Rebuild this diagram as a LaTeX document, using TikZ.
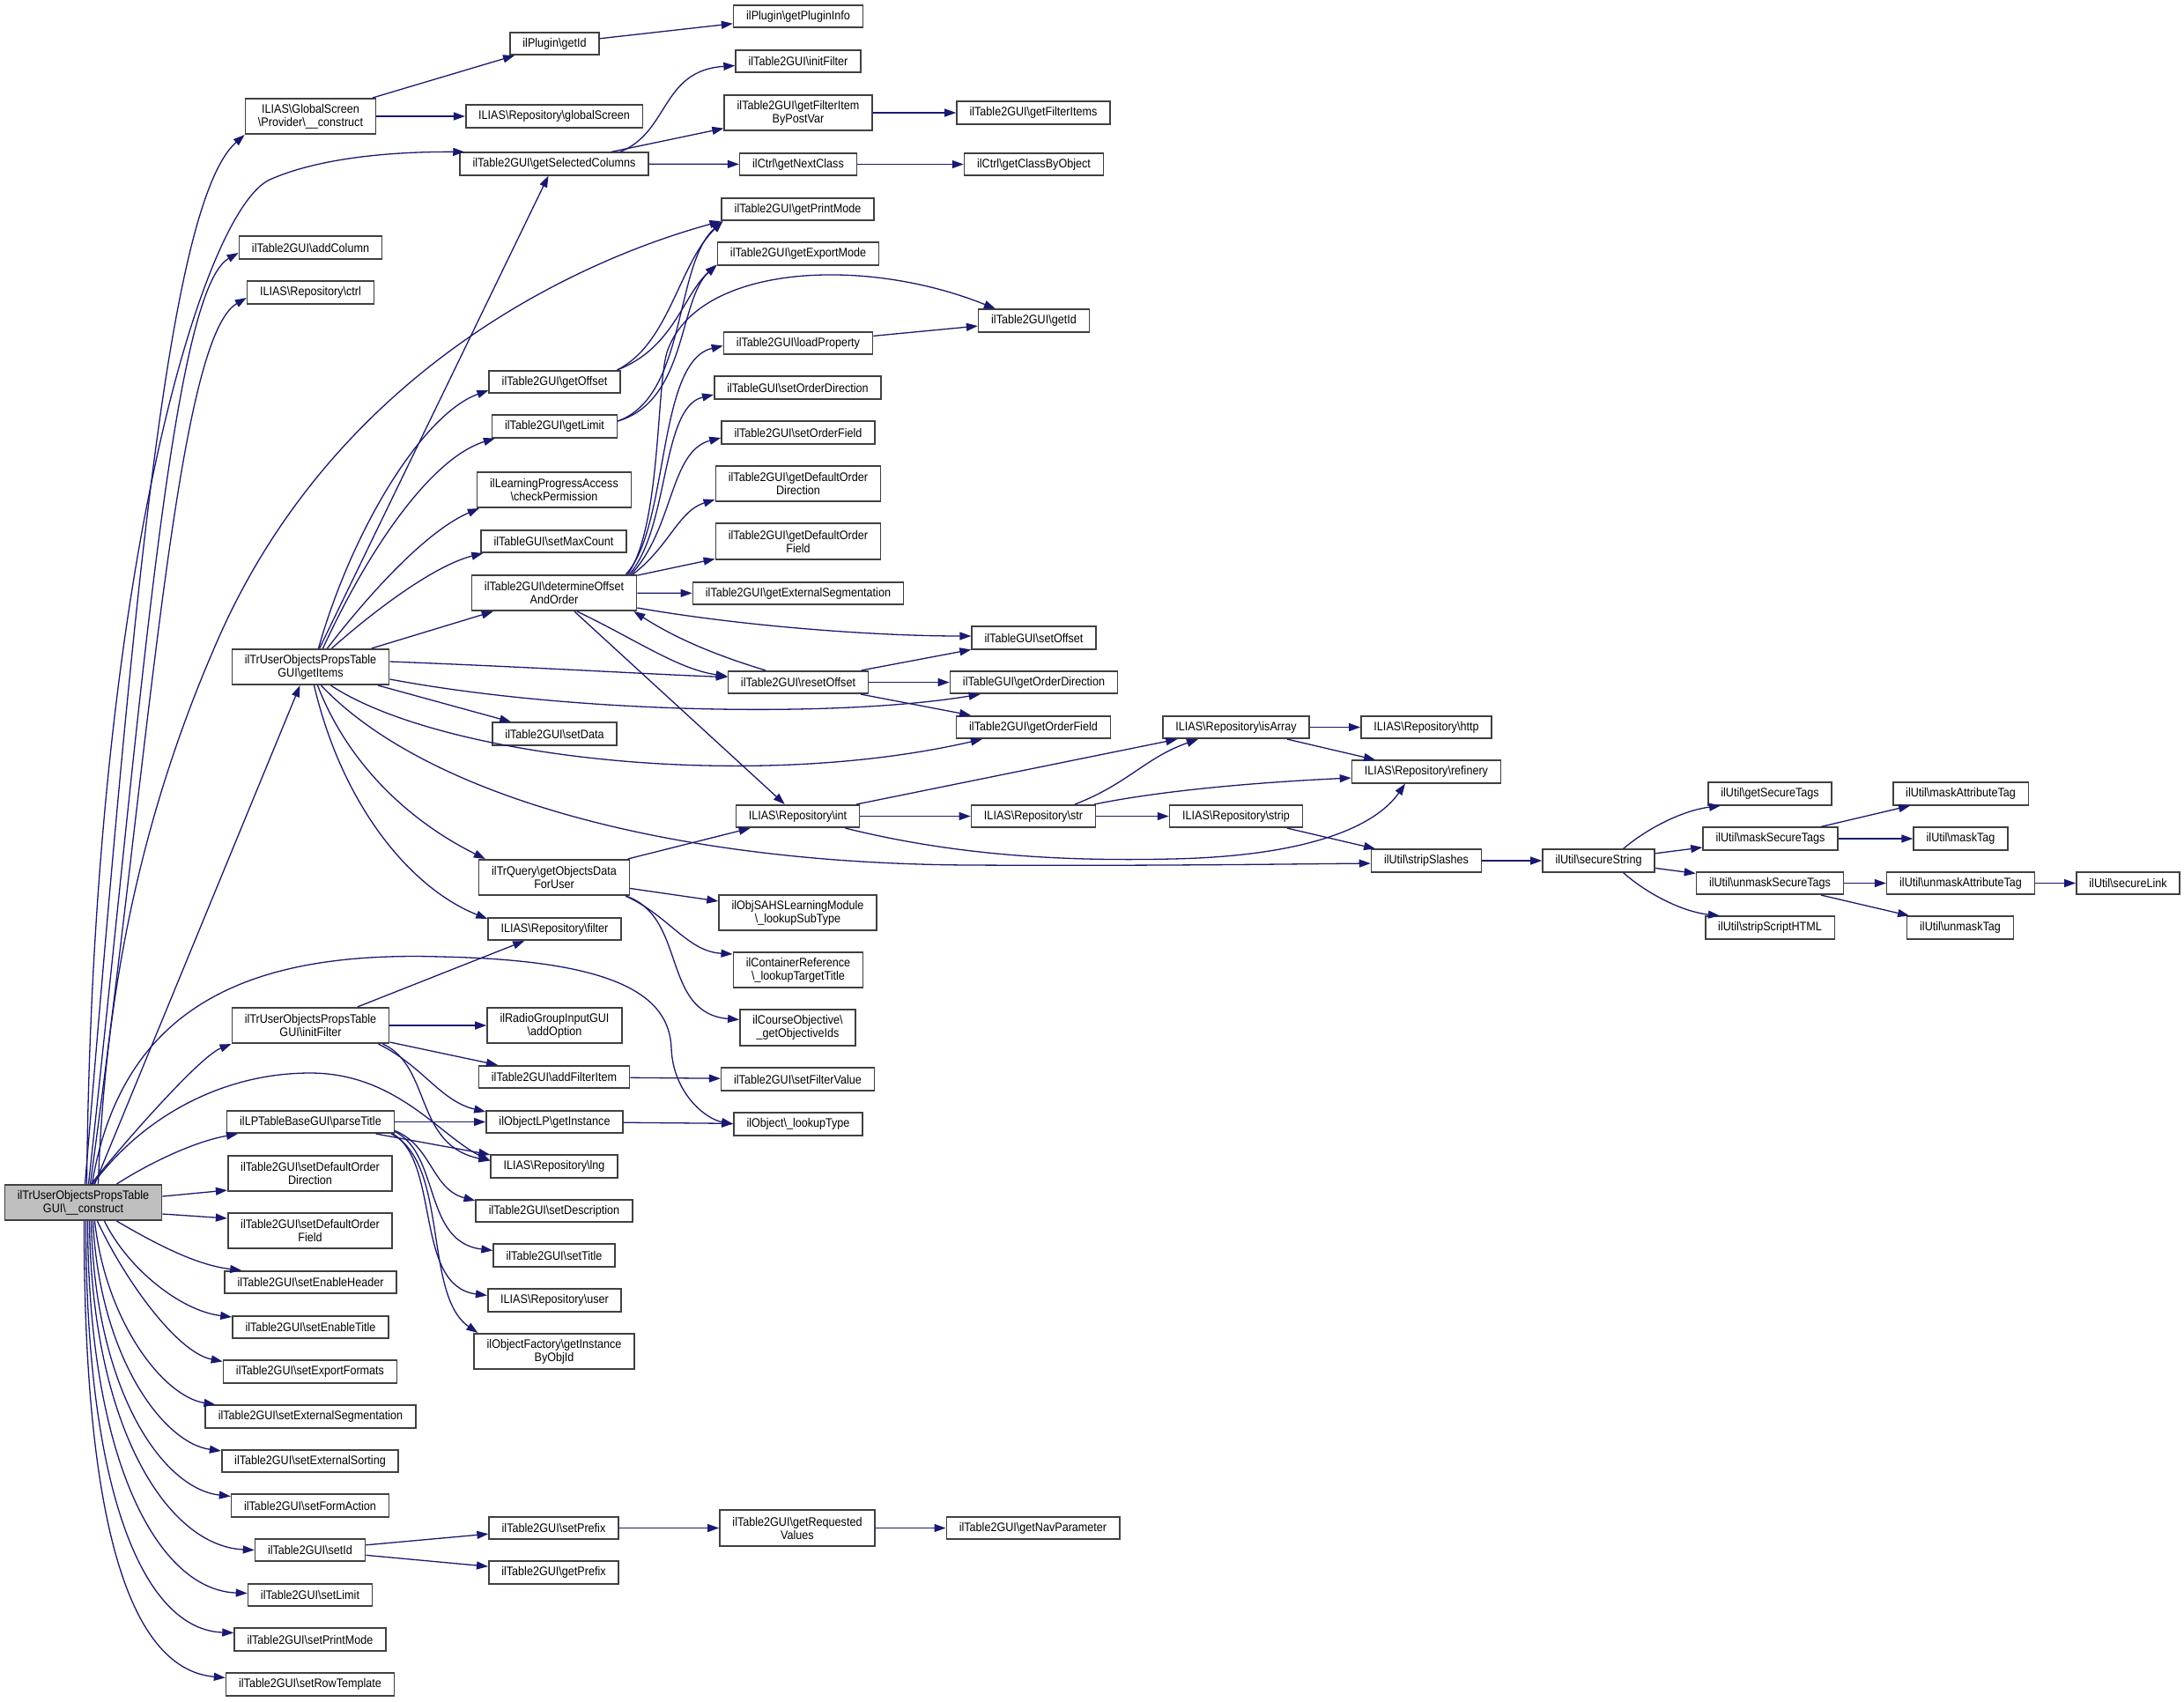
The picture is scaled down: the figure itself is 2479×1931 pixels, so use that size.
\documentclass[tikz,border=0pt]{standalone}
\usepackage{fontspec}
\newfontfamily\dxfont{Liberation Sans}[FakeStretch=0.9]
\usepackage{tikz}
\usetikzlibrary{arrows.meta}
\definecolor{callblue}{RGB}{25,25,112}
\definecolor{boxline}{RGB}{64,64,64}
\definecolor{rootfill}{RGB}{191,191,191}
\newcommand{\bs}{\textbackslash}

\begin{document}
\begin{tikzpicture}[x=1pt, y=-1pt,
    fnbox/.style={draw=boxline, line width=1.6pt, fill=white, inner xsep=14.5pt, inner ysep=2pt,
        minimum height=25.5pt, align=center, font=\dxfont\fontsize{14}{15}\selectfont},
    twoline/.style={fnbox, minimum height=40.5pt},
    rootbox/.style={twoline, fill=rootfill},
    callarrow/.style={draw=callblue, line width=1.3pt, -{Triangle[length=13pt, width=9pt]}}]
    \useasboundingbox (0,0) rectangle (2479,1931);

    % Root
    \node[rootbox] (root) at (94.5,1365) {ilTrUserObjectsPropsTable\\GUI\bs\_\_construct};

    % Second column
    \node[twoline] (prov) at (352.5,132) {ILIAS\bs GlobalScreen\\\bs Provider\bs\_\_construct};
    \node[fnbox] (addcol) at (352.5,281) {ilTable2GUI\bs addColumn};
    \node[fnbox] (ctrl) at (352.5,332) {ILIAS\bs Repository\bs ctrl};
    \node[twoline] (getitems) at (352.5,757) {ilTrUserObjectsPropsTable\\GUI\bs getItems};
    \node[twoline] (initfilt) at (352.5,1164) {ilTrUserObjectsPropsTable\\GUI\bs initFilter};
    \node[fnbox] (parsetitle) at (352.5,1273.5) {ilLPTableBaseGUI\bs parseTitle};
    \node[twoline] (sdefdir) at (352,1332) {ilTable2GUI\bs setDefaultOrder\\Direction};
    \node[twoline] (sdeffld) at (352,1397) {ilTable2GUI\bs setDefaultOrder\\Field};
    \node[fnbox] (enheader) at (352.5,1455.5) {ilTable2GUI\bs setEnableHeader};
    \node[fnbox] (entitle) at (352.5,1506.5) {ilTable2GUI\bs setEnableTitle};
    \node[fnbox] (expformats) at (352,1557) {ilTable2GUI\bs setExportFormats};
    \node[fnbox] (sextseg) at (352.5,1608) {ilTable2GUI\bs setExternalSegmentation};
    \node[fnbox] (extsort) at (352,1658.5) {ilTable2GUI\bs setExternalSorting};
    \node[fnbox] (formaction) at (352,1709) {ilTable2GUI\bs setFormAction};
    \node[fnbox] (setid) at (352,1759.5) {ilTable2GUI\bs setId};
    \node[fnbox] (setlimit) at (352,1810.5) {ilTable2GUI\bs setLimit};
    \node[fnbox] (setprintmode) at (352,1861) {ilTable2GUI\bs setPrintMode};
    \node[fnbox] (rowtemplate) at (352,1912) {ilTable2GUI\bs setRowTemplate};

    % Third column
    \node[fnbox] (plgid) at (629.5,49.5) {ilPlugin\bs getId};
    \node[fnbox] (globscr) at (629,132) {ILIAS\bs Repository\bs globalScreen};
    \node[fnbox] (selcols) at (629,186) {ilTable2GUI\bs getSelectedColumns};
    \node[fnbox] (getoffset) at (629.5,433.5) {ilTable2GUI\bs getOffset};
    \node[fnbox] (getlimit) at (629.5,484) {ilTable2GUI\bs getLimit};
    \node[twoline] (chkperm) at (629,556) {ilLearningProgressAccess\\\bs checkPermission};
    \node[fnbox] (setmaxcnt) at (628.5,614.5) {ilTableGUI\bs setMaxCount};
    \node[twoline] (detoffset) at (629,673) {ilTable2GUI\bs determineOffset\\AndOrder};
    \node[fnbox] (setdata) at (629.5,833) {ilTable2GUI\bs setData};
    \node[twoline] (objdata) at (629,996) {ilTrQuery\bs getObjectsData\\ForUser};
    \node[fnbox] (repfilter) at (629.5,1054.5) {ILIAS\bs Repository\bs filter};
    \node[twoline] (addoption) at (629.5,1164) {ilRadioGroupInputGUI\\\bs addOption};
    \node[fnbox] (addfilt) at (629,1222.5) {ilTable2GUI\bs addFilterItem};
    \node[fnbox] (lpinst) at (629.5,1273.5) {ilObjectLP\bs getInstance};
    \node[fnbox] (replng) at (629,1324) {ILIAS\bs Repository\bs lng};
    \node[fnbox] (setdesc) at (629,1374.5) {ilTable2GUI\bs setDescription};
    \node[fnbox] (settitle) at (629,1425) {ilTable2GUI\bs setTitle};
    \node[fnbox] (repuser) at (629.5,1476) {ILIAS\bs Repository\bs user};
    \node[twoline] (instbyobj) at (629,1534) {ilObjectFactory\bs getInstance\\ByObjId};
    \node[fnbox] (setprefix) at (628.5,1734.5) {ilTable2GUI\bs setPrefix};
    \node[fnbox] (getprefix) at (628.5,1785) {ilTable2GUI\bs getPrefix};

    % Fourth column
    \node[fnbox] (plginfo) at (906,18.5) {ilPlugin\bs getPluginInfo};
    \node[fnbox] (tinitfilt) at (906,69.5) {ilTable2GUI\bs initFilter};
    \node[twoline] (filtbypost) at (906,128) {ilTable2GUI\bs getFilterItem\\ByPostVar};
    \node[fnbox] (nextcls) at (906,186.5) {ilCtrl\bs getNextClass};
    \node[fnbox] (printmode) at (905.5,237.5) {ilTable2GUI\bs getPrintMode};
    \node[fnbox] (exportmode) at (906,288) {ilTable2GUI\bs getExportMode};
    \node[fnbox] (loadprop) at (906,389.5) {ilTable2GUI\bs loadProperty};
    \node[fnbox] (setorddir) at (905.5,440) {ilTableGUI\bs setOrderDirection};
    \node[fnbox] (setordfld) at (906,491) {ilTable2GUI\bs setOrderField};
    \node[twoline] (defdir) at (906,549) {ilTable2GUI\bs getDefaultOrder\\Direction};
    \node[twoline] (deffld) at (906,614.5) {ilTable2GUI\bs getDefaultOrder\\Field};
    \node[fnbox] (extseg) at (906,673.5) {ilTable2GUI\bs getExternalSegmentation};
    \node[fnbox] (resetoffset) at (906,774.5) {ilTable2GUI\bs resetOffset};
    \node[fnbox] (repint) at (905.5,926.5) {ILIAS\bs Repository\bs int};
    \node[twoline] (lookupsub) at (905.5,1036) {ilObjSAHSLearningModule\\\bs\_lookupSubType};
    \node[twoline] (lookuptarget) at (906,1101) {ilContainerReference\\\bs\_lookupTargetTitle};
    \node[twoline] (objectiveids) at (905.5,1166.5) {ilCourseObjective\bs\\\_getObjectiveIds};
    \node[fnbox] (setfiltval) at (905.5,1225) {ilTable2GUI\bs setFilterValue};
    \node[fnbox] (lookuptype) at (906,1276) {ilObject\bs\_lookupType};
    \node[twoline] (reqvalues) at (905,1734.5) {ilTable2GUI\bs getRequested\\Values};

    % Fifth column
    \node[fnbox] (filtitems) at (1173,128) {ilTable2GUI\bs getFilterItems};
    \node[fnbox] (clsbyobj) at (1173.5,186.5) {ilCtrl\bs getClassByObject};
    \node[fnbox] (tgetid) at (1173.5,364) {ilTable2GUI\bs getId};
    \node[fnbox] (setoffset) at (1173.5,724) {ilTableGUI\bs setOffset};
    \node[fnbox] (getorddir) at (1173.5,774.5) {ilTableGUI\bs getOrderDirection};
    \node[fnbox] (getordfld) at (1173,825.5) {ilTable2GUI\bs getOrderField};
    \node[fnbox] (repstr) at (1173,926.5) {ILIAS\bs Repository\bs str};
    \node[fnbox] (navparam) at (1172.5,1734.5) {ilTable2GUI\bs getNavParameter};

    % Repository and ilUtil columns
    \node[fnbox] (isarray) at (1403,825.5) {ILIAS\bs Repository\bs isArray};
    \node[fnbox] (repstrip) at (1403,926.5) {ILIAS\bs Repository\bs strip};
    \node[fnbox] (http) at (1619,825.5) {ILIAS\bs Repository\bs http};
    \node[fnbox] (refinery) at (1619,876) {ILIAS\bs Repository\bs refinery};
    \node[fnbox] (stripsl) at (1619,977) {ilUtil\bs stripSlashes};
    \node[fnbox] (securestr) at (1814.5,977) {ilUtil\bs secureString};
    \node[fnbox] (getsectags) at (2009,901) {ilUtil\bs getSecureTags};
    \node[fnbox] (masksectags) at (2009.5,952) {ilUtil\bs maskSecureTags};
    \node[fnbox] (unmasksectags) at (2009,1002.5) {ilUtil\bs unmaskSecureTags};
    \node[fnbox] (stripscript) at (2009,1053) {ilUtil\bs stripScriptHTML};
    \node[fnbox] (maskattr) at (2225.5,901) {ilUtil\bs maskAttributeTag};
    \node[fnbox] (masktag) at (2225.5,952) {ilUtil\bs maskTag};
    \node[fnbox] (unmaskattr) at (2225.5,1002.5) {ilUtil\bs unmaskAttributeTag};
    \node[fnbox] (unmasktag) at (2225,1053) {ilUtil\bs unmaskTag};
    \node[fnbox] (securelink) at (2415.5,1002.5) {ilUtil\bs secureLink};

    % Calls made by the root
    \draw[callarrow] ([xshift=2pt]root.north) .. controls (150,700) and (190,230) .. (prov.south west);
    \draw[callarrow] ([xshift=4pt]root.north) .. controls (105,650) and (230,240) .. (306,204) .. controls (360,180) and (440,172) .. ([xshift=6pt]selcols.north west);
    \draw[callarrow] ([xshift=6pt]root.north) .. controls (160,800) and (195,330) .. ([yshift=-6pt]addcol.west);
    \draw[callarrow] ([xshift=8pt]root.north) .. controls (170,850) and (200,385) .. ([yshift=-6pt]ctrl.west);
    \draw[callarrow] ([xshift=17pt]root.north) .. controls (120,1100) and (170,900) .. (250,720) .. controls (380,430) and (640,300) .. (printmode.south west);
    \draw[callarrow] ([xshift=13pt]root.north) -- ([xshift=-12pt]getitems.south);
    \draw[callarrow] ([xshift=9pt]root.north) .. controls (130,1310) and (225,1200) .. (initfilt.south west);
    \draw[callarrow] ([xshift=10pt]root.north) .. controls (140,1130) and (300,1080) .. (500,1086) .. controls (700,1090) and (760,1130) .. (762,1190) .. controls (764,1240) and (800,1270) .. (lookuptype.west);
    \draw[callarrow] ([xshift=11pt]root.north) .. controls (160,1270) and (250,1218) .. (352,1218) .. controls (450,1218) and (500,1290) .. ([yshift=-7pt]replng.north west);
    \draw[callarrow] ([xshift=38pt]root.north) .. controls (170,1320) and (220,1296) .. ([xshift=13pt]parsetitle.south west);
    \draw[callarrow] ([yshift=7pt]root.east) -- ([yshift=2pt]sdefdir.south west);
    \draw[callarrow] ([yshift=-13pt]root.east) -- ([yshift=-7pt]sdeffld.north west);
    \draw[callarrow] ([xshift=38pt]root.south) .. controls (190,1420) and (230,1437) .. ([xshift=20pt]enheader.north west);
    \draw[callarrow] ([xshift=24pt]root.south) .. controls (145,1440) and (205,1488) .. ([yshift=-2pt]entitle.north west);
    \draw[callarrow] ([xshift=16pt]root.south) .. controls (140,1450) and (200,1535) .. ([yshift=-2pt]expformats.north west);
    \draw[callarrow] ([xshift=13pt]root.south) .. controls (120,1500) and (185,1585) .. ([xshift=12pt]sextseg.north west);
    \draw[callarrow] ([xshift=11pt]root.south) .. controls (113,1540) and (185,1638) .. ([yshift=-2pt]extsort.north west);
    \draw[callarrow] ([xshift=9pt]root.south) .. controls (108,1580) and (185,1690) .. ([yshift=-3pt]formaction.north west);
    \draw[callarrow] ([xshift=7pt]root.south) .. controls (104,1620) and (190,1755) .. (setid.west);
    \draw[callarrow] ([xshift=5pt]root.south) .. controls (100,1660) and (180,1805) .. ([yshift=2pt]setlimit.west);
    \draw[callarrow] ([xshift=3pt]root.south) .. controls (97,1700) and (165,1850) .. ([yshift=-6pt]setprintmode.north west);
    \draw[callarrow] ([xshift=1pt]root.south) .. controls (95,1740) and (150,1895) .. ([yshift=-6pt]rowtemplate.north west);

    % Provider and selected columns
    \draw[callarrow] (prov) -- (plgid);
    \draw[callarrow] (prov) -- (globscr);
    \draw[callarrow] (plgid) -- (plginfo);
    \draw[callarrow] ([xshift=-33pt]selcols.north east) .. controls (760,150) and (750,80) .. ([yshift=-5pt]tinitfilt.west);
    \draw[callarrow] (selcols) -- (filtbypost);
    \draw[callarrow] (selcols) -- (nextcls);
    \draw[callarrow] (filtbypost) -- (filtitems);
    \draw[callarrow] (nextcls) -- (clsbyobj);

    % getItems
    \draw[callarrow] (getitems) -- (selcols);
    \draw[callarrow] ([xshift=9pt]getitems.north) .. controls (400,600) and (480,470) .. ([yshift=4pt]getoffset.south west);
    \draw[callarrow] ([xshift=14pt]getitems.north) .. controls (420,620) and (490,520) .. ([xshift=4pt]getlimit.south west);
    \draw[callarrow] ([xshift=19pt]getitems.north) .. controls (430,660) and (490,600) .. ([xshift=3pt]chkperm.south west);
    \draw[callarrow] ([xshift=24pt]getitems.north) .. controls (440,680) and (500,640) .. ([xshift=3pt]setmaxcnt.south west);
    \draw[callarrow] (getitems) -- (detoffset);
    \draw[callarrow] ([yshift=6pt]getitems.east) .. controls (600,757) and (750,766) .. ([yshift=6pt]resetoffset.west);
    \draw[callarrow] ([yshift=-14pt]getitems.east) .. controls (650,810) and (950,815) .. ([xshift=35pt]getorddir.south west);
    \draw[callarrow] (getitems) -- (setdata);
    \draw[callarrow] ([xshift=23pt]getitems.south) .. controls (500,860) and (850,900) .. ([xshift=30pt]getordfld.south west);
    \draw[callarrow] ([xshift=12pt]getitems.south) .. controls (480,900) and (750,980) .. (1100,982) .. controls (1300,983) and (1450,981) .. ([yshift=-3pt]stripsl.west);
    \draw[callarrow] ([xshift=8pt]getitems.south) .. controls (400,880) and (480,940) .. ([xshift=8pt]objdata.north west);
    \draw[callarrow] ([xshift=4pt]getitems.south) .. controls (390,920) and (470,1010) .. ([yshift=-2pt]repfilter.north west);

    % Offset and limit
    \draw[callarrow] ([xshift=-4pt]getoffset.north east) .. controls (760,390) and (770,300) .. ([xshift=2pt]printmode.south west);
    \draw[callarrow] ([xshift=-4pt]getoffset.north east) .. controls (765,395) and (775,335) .. ([yshift=1pt]exportmode.south west);
    \draw[callarrow] ([yshift=6pt]getlimit.east) .. controls (780,450) and (765,300) .. ([xshift=2pt]printmode.south west);
    \draw[callarrow] ([yshift=6pt]getlimit.east) .. controls (780,455) and (770,340) .. ([yshift=1pt]exportmode.south west);
    \draw[callarrow] (loadprop) -- (tgetid);

    % determineOffsetAndOrder
    \draw[callarrow] ([xshift=-11pt]detoffset.north east) .. controls (750,600) and (745,440) .. (757,400) .. controls (790,300) and (980,290) .. ([xshift=20pt]tgetid.north west);
    \draw[callarrow] ([xshift=-13pt]detoffset.north east) .. controls (760,600) and (745,410) .. ([yshift=-3pt]loadprop.west);
    \draw[callarrow] ([xshift=-9pt]detoffset.north east) .. controls (760,600) and (750,462) .. ([yshift=-8pt]setorddir.west);
    \draw[callarrow] ([xshift=-7pt]detoffset.north east) .. controls (765,600) and (760,512) .. ([yshift=-6pt]setordfld.west);
    \draw[callarrow] ([xshift=-5pt]detoffset.north east) .. controls (760,620) and (770,580) .. ([yshift=3pt]defdir.south west);
    \draw[callarrow] (detoffset) -- (deffld);
    \draw[callarrow] (detoffset) -- (extseg);
    \draw[callarrow] ([yshift=-17pt]detoffset.east) .. controls (850,712) and (1000,722) .. ([yshift=2pt]setoffset.west);
    \draw[callarrow] ([xshift=26pt]detoffset.south) .. controls (720,725) and (770,760) .. ([yshift=7pt]resetoffset.west);
    \draw[callarrow] (detoffset) -- (repint);

    % resetOffset
    \draw[callarrow] ([xshift=-37pt]resetoffset.north) .. controls (800,740) and (760,720) .. ([xshift=-4pt]detoffset.south east);
    \draw[callarrow] (resetoffset) -- (setoffset);
    \draw[callarrow] (resetoffset) -- (getorddir);
    \draw[callarrow] (resetoffset) -- (getordfld);

    % getObjectsDataForUser
    \draw[callarrow] (objdata) -- (repint);
    \draw[callarrow] (objdata) -- (lookupsub);
    \draw[callarrow] ([xshift=-5pt]objdata.south east) .. controls (760,1040) and (780,1080) .. ([yshift=-3pt]lookuptarget.north west);
    \draw[callarrow] ([xshift=-5pt]objdata.south east) .. controls (780,1040) and (750,1150) .. ([yshift=-12pt]objectiveids.north west);

    % Repository calls
    \draw[callarrow] (repint) -- (isarray);
    \draw[callarrow] (repint) -- (repstr);
    \draw[callarrow] ([xshift=54pt]repint.south) .. controls (1080,970) and (1200,978) .. (1330,975) .. controls (1480,972) and (1560,940) .. ([xshift=-24pt]refinery.south);
    \draw[callarrow] ([xshift=47pt]repstr.north) .. controls (1280,890) and (1300,860) .. ([xshift=-43pt]isarray.south);
    \draw[callarrow] ([xshift=-2pt]repstr.north east) .. controls (1330,895) and (1450,887) .. ([yshift=-7pt]refinery.west);
    \draw[callarrow] (repstr) -- (repstrip);
    \draw[callarrow] (repstrip) -- (stripsl);
    \draw[callarrow] (isarray) -- (http);
    \draw[callarrow] (isarray) -- (refinery);

    % ilUtil
    \draw[callarrow] (stripsl) -- (securestr);
    \draw[callarrow] ([xshift=28pt]securestr.north) .. controls (1870,940) and (1910,920) .. ([xshift=15pt]getsectags.south west);
    \draw[callarrow] (securestr) -- (masksectags);
    \draw[callarrow] (securestr) -- (unmasksectags);
    \draw[callarrow] ([xshift=28pt]securestr.south) .. controls (1870,1015) and (1910,1035) .. ([xshift=17pt]stripscript.north west);
    \draw[callarrow] (masksectags) -- (maskattr);
    \draw[callarrow] (masksectags) -- (masktag);
    \draw[callarrow] (unmasksectags) -- (unmaskattr);
    \draw[callarrow] (unmasksectags) -- (unmasktag);
    \draw[callarrow] (unmaskattr) -- (securelink);

    % initFilter and parseTitle
    \draw[callarrow] (initfilt) -- (repfilter);
    \draw[callarrow] (initfilt) -- (addoption);
    \draw[callarrow] (initfilt) -- (addfilt);
    \draw[callarrow] ([xshift=-13pt]initfilt.south east) .. controls (480,1210) and (500,1250) .. ([yshift=-2pt]lpinst.north west);
    \draw[callarrow] ([xshift=-8pt]initfilt.south east) .. controls (490,1210) and (470,1300) .. ([yshift=-7pt]replng.north west);
    \draw[callarrow] (addfilt) -- (setfiltval);
    \draw[callarrow] (parsetitle) -- (lpinst);
    \draw[callarrow] (parsetitle) -- (replng);
    \draw[callarrow] ([yshift=-10pt]parsetitle.east) .. controls (490,1300) and (490,1350) .. ([yshift=-2pt]setdesc.north west);
    \draw[callarrow] ([yshift=-11pt]parsetitle.east) .. controls (500,1310) and (480,1410) .. ([yshift=-8pt]settitle.north west);
    \draw[callarrow] ([xshift=-2pt]parsetitle.south east) .. controls (500,1320) and (470,1460) .. ([yshift=-8pt]repuser.north west);
    \draw[callarrow] ([xshift=-4pt]parsetitle.south east) .. controls (510,1320) and (480,1470) .. ([xshift=5pt]instbyobj.north west);
    \draw[callarrow] (lpinst) -- (lookuptype);

    % setId
    \draw[callarrow] (setid) -- (setprefix);
    \draw[callarrow] (setid) -- (getprefix);
    \draw[callarrow] (setprefix) -- (reqvalues);
    \draw[callarrow] (reqvalues) -- (navparam);
\end{tikzpicture}
\end{document}
